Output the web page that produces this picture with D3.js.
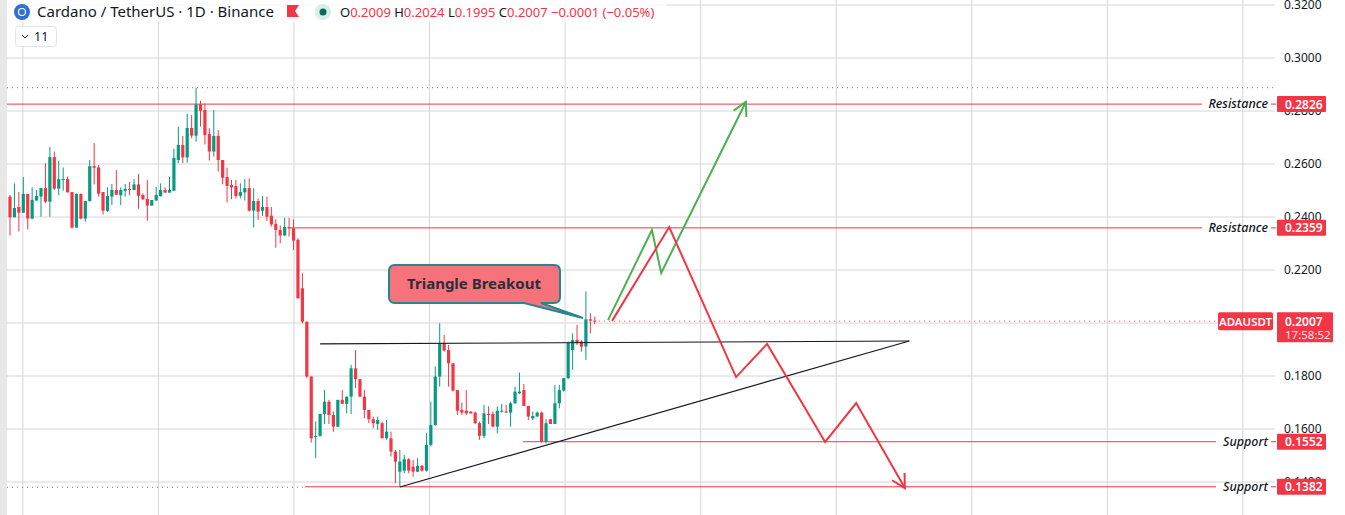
<!DOCTYPE html>
<html>
<head>
<script src="https://cdnjs.cloudflare.com/ajax/libs/d3/7.8.2/d3.min.js"></script>
<style>
	body { margin: 0; background: #fff; }
	svg { display: block; font-family: "Noto Sans", "DejaVu Sans", sans-serif; }
</style>
</head>
<body>
<svg id="canvas"></svg>
<script>
// daily candles, oldest first
const opens = [.2477,.2399,.2438,.2416,.2487,.2394,.2462,.2477,.2509,.2458,.2626,.2507,.2541,.2543,.2494,.2360,.2487,.2394,.2460,.2592,
	.2587,.2494,.2423,.2477,.2502,.2482,.2499,.2506,.2502,.2523,.2483,.2468,.2443,.2462,.2479,.2502,.2492,.2499,.2615,.2672,
	.2625,.2736,.2707,.2825,.2804,.2713,.2647,.2706,.2615,.2551,.2521,.2517,.2480,.2493,.2509,.2424,.2460,.2424,.2438,.2405,
	.2374,.2351,.2330,.2362,.2357,.2314,.2131,.2005,.1798,.1569,.1574,.1657,.1703,.1653,.1609,.1710,.1695,.1722,.1829,.1788,
	.1722,.1672,.1637,.1619,.1622,.1565,.1565,.1515,.1439,.1443,.1486,.1458,.1439,.1461,.1443,.1540,.1615,.1798,.1924,.1898,
	.1848,.1747,.1672,.1669,.1666,.1662,.1622,.1574,.1657,.1657,.1609,.1666,.1666,.1662,.1697,.1735,.1747,.1687,.1640,.1647,
	.1662,.1553,.1637,.1619,.1697,.1745,.1792,.1898,.1936,.1930,.1911,.2014,.2009];
const highs = [.2483,.2527,.2494,.2551,.2487,.2512,.2502,.2509,.2603,.2664,.2647,.2611,.2587,.2553,.2494,.2489,.2489,.2460,.2615,.2679,
	.2596,.2494,.2512,.2525,.2577,.2512,.2525,.2533,.2543,.2562,.2489,.2540,.2464,.2514,.2527,.2512,.2551,.2657,.2740,.2706,
	.2790,.2785,.2888,.2839,.2829,.2735,.2804,.2728,.2615,.2586,.2540,.2540,.2527,.2543,.2546,.2508,.2470,.2479,.2477,.2438,
	.2391,.2368,.2397,.2397,.2391,.2320,.2188,.2005,.1798,.1628,.1657,.1747,.1710,.1666,.1710,.1747,.1722,.1842,.1898,.1788,
	.1747,.1672,.1647,.1647,.1628,.1634,.1590,.1521,.1521,.1502,.1490,.1483,.1490,.1464,.1584,.1703,.1836,.1999,.1955,.1917,
	.1848,.1747,.1700,.1747,.1666,.1666,.1628,.1691,.1685,.1666,.1685,.1695,.1691,.1703,.1760,.1813,.1770,.1687,.1666,.1666,
	.1666,.1637,.1637,.1766,.1766,.1792,.1930,.1961,.1993,.1936,.2119,.2037,.2024];
const lows = [.2330,.2399,.2345,.2416,.2353,.2391,.2462,.2401,.2452,.2401,.2502,.2482,.2499,.2493,.2356,.2360,.2391,.2382,.2458,.2523,
	.2477,.2409,.2419,.2445,.2484,.2445,.2477,.2482,.2502,.2431,.2464,.2386,.2443,.2462,.2477,.2492,.2492,.2499,.2603,.2603,
	.2605,.2697,.2684,.2741,.2674,.2613,.2628,.2571,.2523,.2455,.2467,.2470,.2470,.2462,.2420,.2360,.2389,.2404,.2385,.2364,
	.2284,.2301,.2330,.2326,.2275,.2093,.1999,.1792,.1549,.1490,.1571,.1619,.1619,.1590,.1607,.1695,.1659,.1657,.1754,.1722,
	.1641,.1622,.1603,.1597,.1565,.1559,.1496,.1395,.1383,.1433,.1433,.1420,.1437,.1439,.1439,.1534,.1612,.1760,.1892,.1760,
	.1741,.1653,.1653,.1653,.1659,.1619,.1559,.1565,.1619,.1607,.1584,.1662,.1662,.1609,.1695,.1732,.1687,.1634,.1634,.1647,
	.1549,.1546,.1619,.1619,.1678,.1741,.1788,.1823,.1917,.1892,.1861,.1961,.1995];
const closes = [.2399,.2434,.2416,.2487,.2394,.2464,.2479,.2509,.2458,.2626,.2507,.2543,.2543,.2493,.2360,.2487,.2394,.2460,.2592,.2586,
	.2488,.2424,.2479,.2502,.2484,.2502,.2506,.2502,.2523,.2480,.2467,.2443,.2464,.2483,.2502,.2492,.2502,.2623,.2672,.2625,
	.2736,.2707,.2825,.2801,.2709,.2647,.2706,.2615,.2548,.2517,.2512,.2479,.2494,.2509,.2424,.2460,.2420,.2438,.2401,.2372,
	.2351,.2330,.2362,.2357,.2311,.2093,.2005,.1798,.1565,.1574,.1657,.1703,.1653,.1609,.1710,.1695,.1722,.1829,.1788,.1722,
	.1672,.1637,.1622,.1634,.1565,.1590,.1515,.1477,.1477,.1486,.1443,.1439,.1461,.1443,.1540,.1615,.1798,.1924,.1896,.1848,
	.1745,.1669,.1662,.1659,.1659,.1622,.1574,.1659,.1653,.1609,.1669,.1669,.1662,.1697,.1741,.1741,.1687,.1647,.1649,.1662,
	.1553,.1622,.1619,.1697,.1747,.1792,.1926,.1936,.1924,.1911,.2014,.2009,.2007];

const priceTicks = [0.14, 0.16, 0.18, 0.20, 0.22, 0.24, 0.26, 0.28, 0.30, 0.32];
const timeGrid = [2.9, 33.5, 64.1, 94.7, 125.3, 155.9, 186.5, 217.1, 247.7, 278.3];

// drawn levels: [price, start bar, label]
const levels = [[0.2826, -0.7, "Resistance"], [0.2359, 63.2, "Resistance"], [0.1552, 115.8, "Support"], [0.1382, 66.6, "Support"]];
// triangle: top edge and rising edge [bar, price]
const triTop = [[70, 0.1921], [203, 0.1932]];
const triRise = [[88, 0.1381], [203, 0.1932]];
// projected scenarios
const bullPath = [[135, 0.2011], [144.9, 0.2351], [147, 0.2189], [166.1, 0.2834]];
const bearPath = [[135.9, 0.2008], [148.8, 0.2362], [163.9, 0.1796], [170.9, 0.1921], [184, 0.1551], [191, 0.1698], [202, 0.1377]];
const lastPrice = 0.2007, periodHigh = 0.2888, periodLow = 0.1382;

const W = 1345, H = 515, plotR = 1275;
const up = "#089981", down = "#f23645";
const svg = d3.select("#canvas").attr("width", W).attr("height", H);

const x = d3.scaleLinear().domain([-2.257, 285.55]).range([0, plotR]);
const y = d3.scaleLinear().domain([0.2, 0.32]).range([323, 5]);

// grid
svg.append("g").selectAll("line").data(priceTicks).join("line")
	.attr("x1", 0).attr("x2", plotR).attr("y1", d => y(d)).attr("y2", d => y(d))
	.attr("stroke", "#d6d6d6");
svg.append("g").selectAll("line").data(timeGrid).join("line")
	.attr("x1", d => x(d)).attr("x2", d => x(d)).attr("y1", 0).attr("y2", H)
	.attr("stroke", "#d6d6d6");
svg.append("rect").attr("x", 0).attr("y", 0).attr("width", 7).attr("height", H).attr("fill", "#e8e8e8");

// price axis
svg.append("g").selectAll("text").data(priceTicks).join("text")
	.attr("x", 1284).attr("y", d => y(d) + 4).attr("font-size", 12).attr("fill", "#131722")
	.text(d => d.toFixed(4));

// high / low markers
svg.append("line").attr("x1", 7).attr("x2", plotR).attr("y1", y(periodHigh)).attr("y2", y(periodHigh))
	.attr("stroke", "#787b86").attr("stroke-dasharray", "1,4");
svg.append("line").attr("x1", 7).attr("x2", x(66.6)).attr("y1", y(periodLow) + 0.5).attr("y2", y(periodLow) + 0.5)
	.attr("stroke", "#787b86").attr("stroke-dasharray", "1,4");

// levels
const lv = svg.append("g").selectAll("g").data(levels).join("g");
lv.append("line").attr("x1", d => x(d[1])).attr("x2", d => d[2] === "Support" ? 1216 : 1202)
	.attr("y1", d => y(d[0])).attr("y2", d => y(d[0])).attr("stroke", down).attr("stroke-width", 1);
lv.append("text").attr("x", 1268).attr("y", d => y(d[0]) + 4).attr("text-anchor", "end")
	.attr("font-size", 12.5).attr("font-style", "italic").attr("font-weight", 500).attr("fill", "#131722")
	.text(d => d[2]);
lv.append("line").attr("x1", 1271).attr("x2", 1276).attr("y1", d => y(d[0])).attr("y2", d => y(d[0])).attr("stroke", down);
lv.append("rect").attr("x", 1277).attr("y", d => y(d[0]) - 8).attr("width", 49).attr("height", 16).attr("rx", 1).attr("fill", down);
lv.append("text").attr("x", 1285).attr("y", d => y(d[0]) + 4.5).attr("font-size", 12).attr("font-weight", 600)
	.attr("fill", "#fff").text(d => d[0].toFixed(4));

// candles
const bars = svg.append("g").selectAll("g").data(opens.map((o, i) => ({i, o, h: highs[i], l: lows[i], c: closes[i]}))).join("g")
	.attr("fill", d => d.c >= d.o ? up : down).attr("stroke", d => d.c >= d.o ? up : down);
bars.append("line").attr("x1", d => x(d.i)).attr("x2", d => x(d.i)).attr("y1", d => y(d.h)).attr("y2", d => y(d.l)).attr("stroke-width", 1);
bars.append("rect").attr("x", d => x(d.i) - 1.6).attr("width", 3.2).attr("stroke", "none")
	.attr("y", d => y(Math.max(d.o, d.c))).attr("height", d => Math.max(1, Math.abs(y(d.o) - y(d.c))));

// current price line
svg.append("line").attr("x1", x(opens.length)).attr("x2", 1216).attr("y1", y(lastPrice)).attr("y2", y(lastPrice))
	.attr("stroke", down).attr("stroke-dasharray", "1,4");

// triangle
const line = d3.line().x(d => x(d[0])).y(d => y(d[1]));
[triTop, triRise].forEach(p => svg.append("path").attr("d", line(p)).attr("fill", "none").attr("stroke", "#131722").attr("stroke-width", 1.2));

// scenarios with arrowheads
function arrowPath(pts, color) {
	svg.append("path").attr("d", line(pts)).attr("fill", "none").attr("stroke", color).attr("stroke-width", 2).attr("stroke-linejoin", "miter");
	const a = pts[pts.length - 2], b = pts[pts.length - 1];
	const bx = x(b[0]), by = y(b[1]);
	const ang = Math.atan2(by - y(a[1]), bx - x(a[0]));
	const L = 15, s = 0.5;
	const head = [[bx - L * Math.cos(ang - s), by - L * Math.sin(ang - s)], [bx, by], [bx - L * Math.cos(ang + s), by - L * Math.sin(ang + s)]];
	svg.append("path").attr("d", d3.line()(head)).attr("fill", "none").attr("stroke", color).attr("stroke-width", 2);
}
arrowPath(bullPath, "#4caf50");
arrowPath(bearPath, "#f23645");

// callout
const call = svg.append("g");
call.append("path")
	.attr("d", "M395,265 H554 Q560,265 560,271 V297 Q560,303 554,303 H541 L583,318 L524,303 H395 Q389,303 389,297 V271 Q389,265 395,265 Z")
	.attr("fill", "#f7737c").attr("stroke", "#26868f").attr("stroke-width", 2);
call.append("text").attr("x", 474).attr("y", 289).attr("text-anchor", "middle").attr("font-size", 15)
	.attr("font-weight", 700).attr("fill", "#2a2e39").text("Triangle Breakout");

// last price labels
svg.append("rect").attr("x", 1218).attr("y", y(lastPrice) - 9).attr("width", 55).attr("height", 18).attr("rx", 2).attr("fill", down);
svg.append("text").attr("x", 1245.5).attr("y", y(lastPrice) + 4.5).attr("text-anchor", "middle").attr("font-size", 11.5)
	.attr("font-weight", 600).attr("fill", "#fff").text("ADAUSDT");
svg.append("rect").attr("x", 1277).attr("y", y(lastPrice) - 9).attr("width", 56).attr("height", 30).attr("rx", 1).attr("fill", down);
svg.append("text").attr("x", 1285).attr("y", y(lastPrice) + 4.5).attr("font-size", 12).attr("font-weight", 600).attr("fill", "#fff").text(lastPrice.toFixed(4));
svg.append("text").attr("x", 1285).attr("y", y(lastPrice) + 18).attr("font-size", 11.5).attr("fill", "#fde0e2").text("17:58:52");

// header
const hd = svg.append("g");
hd.append("rect").attr("x", 7).attr("y", 0).attr("width", 660).attr("height", 22).attr("fill", "#fff").attr("opacity", 0.8);
hd.append("circle").attr("cx", 22).attr("cy", 12).attr("r", 8).attr("fill", "#2f6fd6");
hd.append("circle").attr("cx", 22).attr("cy", 12).attr("r", 3.5).attr("fill", "none").attr("stroke", "#fff").attr("stroke-width", 1.2);
hd.append("text").attr("x", 37).attr("y", 17).attr("font-size", 15).attr("fill", "#131722").text("Cardano / TetherUS · 1D · Binance");
hd.append("path").attr("d", "M287,5 H299 L295,11 L299,17 H287 Z").attr("fill", down);
hd.append("circle").attr("cx", 323).attr("cy", 12).attr("r", 8).attr("fill", "#d6eee9");
hd.append("circle").attr("cx", 323).attr("cy", 12).attr("r", 3.5).attr("fill", "#0b6b57");
const ohlc = [["O", "0.2009"], ["H", "0.2024"], ["L", "0.1995"], ["C", "0.2007"]];
const t = hd.append("text").attr("x", 340).attr("y", 17).attr("font-size", 13);
ohlc.forEach(([k, v]) => {
	t.append("tspan").attr("fill", "#131722").text(k);
	t.append("tspan").attr("fill", down).text(v + " ");
});
t.append("tspan").attr("fill", down).text("−0.0001 (−0.05%)");
hd.append("rect").attr("x", 15.5).attr("y", 26.5).attr("width", 41).attr("height", 20).attr("rx", 3).attr("fill", "#fff").attr("stroke", "#e0e3eb");
hd.append("path").attr("d", "M22,35 L25,38 L28,35").attr("fill", "none").attr("stroke", "#131722");
hd.append("text").attr("x", 34).attr("y", 41).attr("font-size", 12.5).attr("fill", "#131722").text("11");
</script>
</body>
</html>
